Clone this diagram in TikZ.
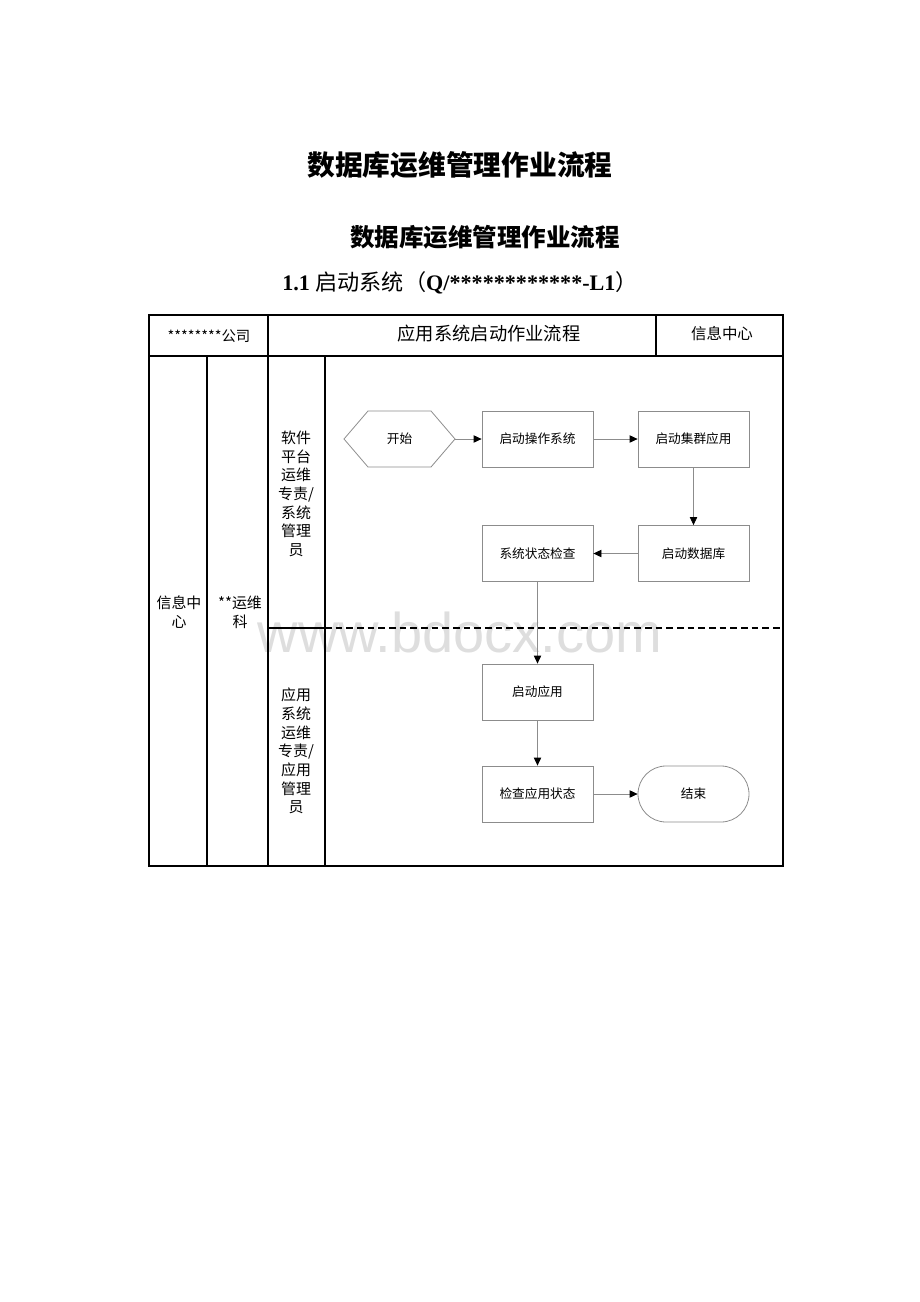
\documentclass[tikz,border=0pt]{standalone}
\usepackage{fontspec}
\setmainfont{Liberation Serif}
\newfontfamily\cjk{Noto Sans CJK SC}
\newfontfamily\wm{Liberation Sans}
\usetikzlibrary{arrows.meta}
\definecolor{boxgray}{HTML}{8C8C8C}
\tikzset{
  px/.style={x=0.75pt,y=-0.75pt},
  frame/.style={line width=1.6pt,black},
  flowbox/.style={draw=boxgray,line width=0.6pt,rectangle,minimum width=83.25pt,minimum height=42pt,inner sep=0pt,font=\cjk\fontsize{9.5pt}{11pt}\selectfont},
  conn/.style={draw=boxgray,line width=0.6pt,-{Triangle[color=black,length=6pt,width=5.5pt]}},
  lanetext/.style={align=center,font=\cjk\fontsize{11.2pt}{14pt}\selectfont,inner sep=0pt},
}
\begin{document}
\begin{tikzpicture}[px]
\useasboundingbox (0,0) rectangle (920,1302);
% watermark
\node[font=\wm\fontsize{42pt}{44pt}\selectfont,text=black!13] (wmk) at (460,632) {www.bdocx.com};
% titles
\node[font=\cjk\bfseries\fontsize{20.8pt}{24pt}\selectfont] (t1) at (460,165) {数据库运维管理作业流程};
\node[font=\cjk\bfseries\fontsize{18.4pt}{22pt}\selectfont] (t2) at (485,237) {数据库运维管理作业流程};
\node[font=\fontsize{16.6pt}{19pt}\selectfont] (t3) at (460,283) {\textbf{1.1} {\cjk 启动系统（}\textbf{Q/************-L1}{\cjk ）}};
% table frame
\draw[frame] (149,315) rectangle (783,866);
\draw[frame] (149,356) -- (783,356);
\draw[frame] (268,315) -- (268,866);
\draw[frame] (656,315) -- (656,356);
\draw[frame] (207,356) -- (207,866);
\draw[frame] (325,356) -- (325,866);
\draw[frame] (268,628) -- (325,628);
\draw[line width=1.2pt,black,dash pattern=on 5pt off 3pt] (325,628) -- (783,628);
% header texts
\node[font=\cjk\fontsize{10.8pt}{12pt}\selectfont] (h1) at (209,336) {********公司};
\node[font=\cjk\fontsize{13.7pt}{16pt}\selectfont] (h2) at (489,334) {应用系统启动作业流程};
\node[font=\cjk\fontsize{11.6pt}{14pt}\selectfont] (h3) at (722,334) {信息中心};
% left labels
\node[lanetext] (c1) at (179,612) {信息中\\心};
\node[lanetext] (c2) at (240,612) {**运维\\科};
\node[lanetext] (l1) at (296,494) {软件\\平台\\运维\\专责/\\系统\\管理\\员};
\node[lanetext] (l2) at (296,751) {应用\\系统\\运维\\专责/\\应用\\管理\\员};
% flow nodes
\node[flowbox,draw=none] (start) at (399.5,439) {开始};
\draw[boxgray,line width=0.6pt] (344,439) -- (368,411) -- (431,411) -- (455,439) -- (431,467) -- (368,467) -- cycle;
\node[flowbox] (os) at (537.5,439) {启动操作系统};
\node[flowbox] (cl) at (693.5,439) {启动集群应用};
\node[flowbox] (db) at (693.5,553.5) {启动数据库};
\node[flowbox] (chk) at (537.5,553.5) {系统状态检查};
\node[flowbox] (app) at (537.5,692) {启动应用};
\node[flowbox] (appchk) at (537.5,794) {检查应用状态};
\node[flowbox,rounded corners=21pt] (end) at (693.5,794) {结束};
% connectors
\draw[conn] (start.east) -- (os.west);
\draw[conn] (os) -- (cl);
\draw[conn] (cl) -- (db);
\draw[conn] (db) -- (chk);
\draw[conn] (chk) -- (app);
\draw[conn] (app) -- (appchk);
\draw[conn] (appchk) -- (end);
\end{tikzpicture}
\end{document}
